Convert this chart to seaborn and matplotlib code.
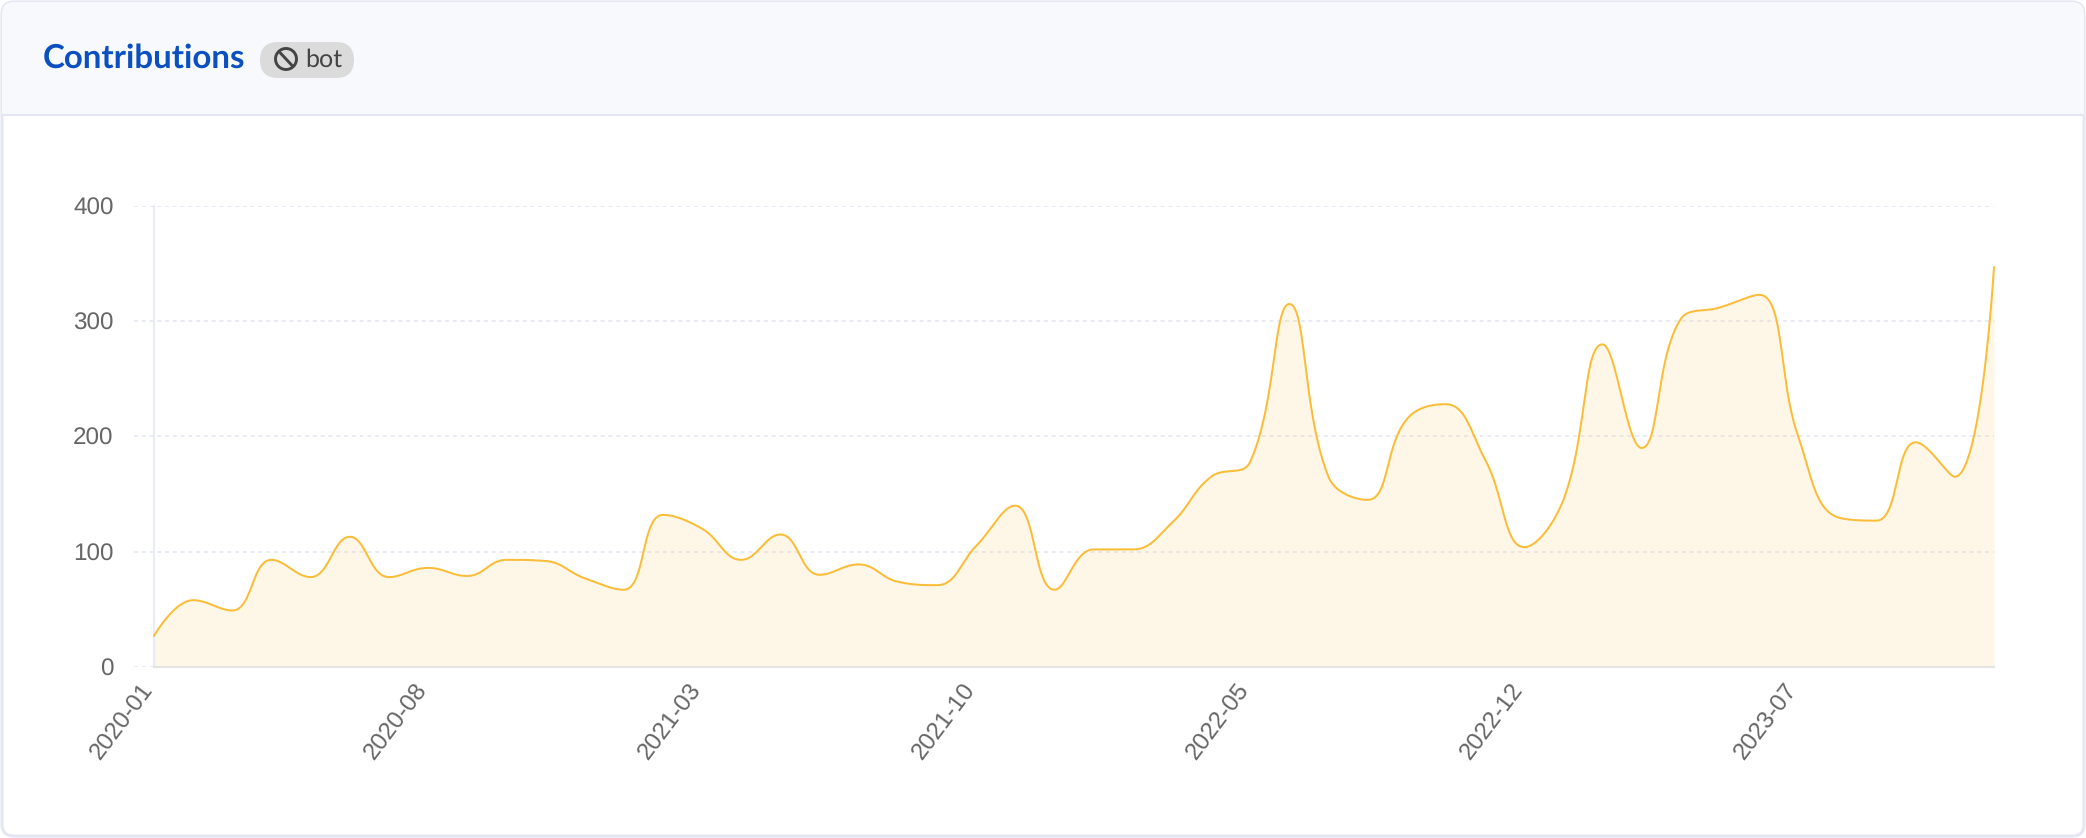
import matplotlib
matplotlib.use('Agg')
import matplotlib.pyplot as plt
from matplotlib.patches import Circle, FancyBboxPatch, Rectangle
from matplotlib.transforms import ScaledTranslation
import numpy as np
import pandas as pd
import seaborn as sns

# monthly contributions
months = [f'{y}-{m:02d}' for y in range(2020, 2024) for m in range(1, 13)]
contributions = [
    27, 58, 49, 93, 78, 113, 78, 86, 79, 93, 92, 77,
    67, 132, 120, 93, 115, 80, 89, 74, 71, 105, 140, 67,
    102, 102, 125, 165, 178, 315, 165, 145, 215, 228, 180, 104,
    145, 280, 190, 302, 312, 323, 200, 130, 127, 195, 165, 347,
]
tick_every = 7
y_ticks = [0, 100, 200, 300, 400]

W, H = 2086, 838
X0, X1, X_GRID, Y0, Y400 = 154, 1994, 134, 667, 206
X_SCALE = (X1 - X0) / (len(months) - 1)
Y_SCALE = (Y0 - Y400) / 400


def smooth_curve(xs, ys, smooth=0.42, steps=24):
    # same idea as the echarts "smooth" line: beziers built in pixel space
    px = np.array(xs, float) * X_SCALE
    py = np.array(ys, float) * Y_SCALE
    n = len(px)
    out_cp = [None] * n
    in_cp = [None] * n
    out_cp[0] = (px[0], py[0])
    in_cp[-1] = (px[-1], py[-1])
    for i in range(1, n - 1):
        p = np.array([px[i], py[i]])
        prev, nxt = np.array([px[i - 1], py[i - 1]]), np.array([px[i + 1], py[i + 1]])
        len_prev = np.hypot(*(p - prev))
        len_next = np.hypot(*(nxt - p))
        ratio = len_next / (len_next + len_prev)
        c1 = p + (nxt - prev) * smooth * ratio
        c1 = np.clip(c1, np.minimum(p, nxt), np.maximum(p, nxt))
        v = c1 - p
        c0 = p - v * len_prev / len_next
        c0 = np.clip(c0, np.minimum(p, prev), np.maximum(p, prev))
        v = p - c0
        c1 = p + v * len_next / len_prev
        in_cp[i], out_cp[i] = c0, c1

    t = np.linspace(0, 1, steps, endpoint=False)[:, None]
    parts = []
    for i in range(n - 1):
        a, d = np.array([px[i], py[i]]), np.array([px[i + 1], py[i + 1]])
        b, c = np.array(out_cp[i]), np.array(in_cp[i + 1])
        parts.append((1 - t) ** 3 * a + 3 * (1 - t) ** 2 * t * b + 3 * (1 - t) * t ** 2 * c + t ** 3 * d)
    parts.append(np.array([[px[-1], py[-1]]]))
    pts = np.vstack(parts)
    return pts[:, 0] / X_SCALE, pts[:, 1] / Y_SCALE


sns.set_theme(style='white')
plt.rcParams['font.family'] = ['Liberation Sans', 'DejaVu Sans']
plt.rcParams['text.hinting'] = 'none'

fig = plt.figure(figsize=(W / 100, H / 100), dpi=100, facecolor='white')

# card, header and badge, in pixel coordinates
card = fig.add_axes([0, 0, 1, 1], zorder=0)
card.set_xlim(0, W)
card.set_ylim(H, 0)
card.axis('off')
header_clip = FancyBboxPatch((2, 2), W - 4, H - 4, boxstyle='round,pad=0,rounding_size=12',
                             fc='white', ec='#e4e7f3', lw=2.2)
card.add_patch(header_clip)
header = Rectangle((2, 2), W - 4, 113, fc='#f8f9fd', ec='none')
card.add_patch(header)
header.set_clip_path(header_clip)
card.plot([3, W - 3], [115, 115], color='#e4e7f3', lw=1.5)
card.text(43, 58, 'Contributions', color='#0b50c0', fontsize=23.8, fontweight='bold',
          family='Lato', va='center', ha='left')
card.add_patch(FancyBboxPatch((260, 42), 94, 36, boxstyle='round,pad=0,rounding_size=18',
                              fc='#dbdbdb', ec='none'))
card.add_patch(Circle((286, 59), 10.5, fc='none', ec='#444444', lw=2.1))
card.plot([279, 293], [51.5, 66.5], color='#444444', lw=2.1, solid_capstyle='butt')
card.text(305, 60, 'bot', color='#444444', fontsize=18, family='Lato', va='center', ha='left')

ax = fig.add_axes([X_GRID / W, 1 - Y0 / H, (X1 - X_GRID) / W, (Y0 - Y400) / H], zorder=1)
ax.patch.set_alpha(0)

x_idx = np.arange(len(months))
xs, ys = smooth_curve(x_idx, contributions)
df = pd.DataFrame({'month': xs, 'value': ys})

sns.lineplot(data=df, x='month', y='value', ax=ax, color='#fbbd38', lw=1.45,
             estimator=None, sort=False, zorder=3, clip_on=False)
ax.fill_between(df['month'], 0, df['value'], color='#fbbf3c', alpha=0.115, lw=0, zorder=2)

ax.set_xlim(-(X0 - X_GRID) / X_SCALE, len(months) - 1)
ax.set_ylim(0, 400)
ax.set_xlabel('')
ax.set_ylabel('')
ax.set_yticks(y_ticks)
ax.set_xticks(x_idx[::tick_every])
ax.set_xticklabels(months[::tick_every], rotation=53, ha='right', va='center',
                   rotation_mode='anchor')
ax.tick_params(axis='both', length=0, labelcolor='#666666')
ax.tick_params(axis='x', pad=0, labelsize=17.5)
ax.tick_params(axis='y', pad=29, labelsize=17.5)
offset = ScaledTranslation(-5 / 100, -19 / 100, fig.dpi_scale_trans)
for lab in ax.get_xticklabels():
    lab.set_transform(lab.get_transform() + offset)

ax.yaxis.grid(True, color='#e8eaf4', lw=1.4, linestyle=(0, (2, 2)), zorder=1)
ax.xaxis.grid(False)
ax.set_axisbelow(True)
for side in ['top', 'right']:
    ax.spines[side].set_visible(False)
ax.spines['left'].set_position(('data', 0))
ax.spines['left'].set_color('#e8eaf4')
ax.spines['left'].set_linewidth(1.5)
ax.spines['bottom'].set_bounds(0, len(months) - 1)
ax.spines['bottom'].set_color('#e4e4e4')
ax.spines['bottom'].set_linewidth(1.5)

fig.savefig('out.png', dpi=100)
